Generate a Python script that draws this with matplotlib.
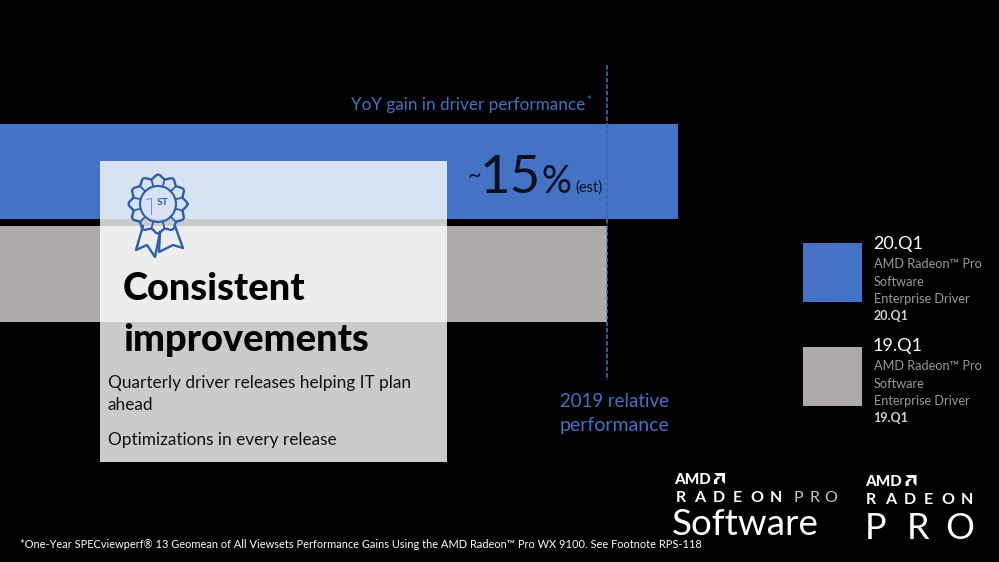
"""AMD Radeon Pro driver slide: YoY gain bars with call-out panel and logos."""

import matplotlib
matplotlib.use("Agg")
import matplotlib.pyplot as plt
import numpy as np
from matplotlib.patches import Circle, Polygon, Rectangle

# ---- Data (bar ends, on the 999 px wide slide) ----
RELEASES = ["20.Q1", "19.Q1"]
BAR_ENDS = [678, 607]
BAR_COLORS = ["#4472c4", "#aeaaaa"]
BAR_CENTERS = [171.5, 274]
BAR_HEIGHTS = [95, 96]
GAIN_TITLE = "YoY gain in driver performance"
BASELINE_LABEL = ["2019 relative", "performance"]
DRIVER_NAME = ["AMD Radeon™ Pro", "Software", "Enterprise Driver"]
BULLETS = ["Quarterly driver releases helping IT plan", "ahead", "Optimizations in every release"]
FOOTNOTE = ("*One-Year SPECviewperf® 13 Geomean of All Viewsets Performance Gains "
            "Using the AMD Radeon™ Pro WX 9100. See Footnote RPS-118")

BLUE = "#4472c4"
DARK = "#0a1020"
FONT = "Lato"
THIN = dict(family=["Roboto", "DejaVu Sans"], fontweight="light")
plt.rcParams["font.family"] = [FONT, "DejaVu Sans"]

fig = plt.figure(figsize=(9.99, 5.62), dpi=100, facecolor="black")
ax = fig.add_axes([0, 0, 1, 1])
ax.set_xlim(0, 999)
ax.set_ylim(562, 0)
ax.axis("off")


def spaced(x, y, letters, step, **kw):
    # letter-spaced logo text, each letter centred in its cell
    for i, ch in enumerate(letters):
        ax.text(x + i * step, y, ch, ha="center", va="baseline", **kw)


def amd_arrow(x, y, s, color="white"):
    ax.add_patch(Polygon([(x, y), (x + s, y), (x + s, y + s), (x + 0.72 * s, y + 0.72 * s),
                          (x + 0.72 * s, y + 0.28 * s), (x + 0.28 * s, y + 0.28 * s)],
                         color=color, lw=0, zorder=6))
    ax.add_patch(Polygon([(x, y + s * 0.62), (x + 0.3 * s, y + 0.36 * s), (x + 0.6 * s, y + 0.36 * s),
                          (x + 0.3 * s, y + 0.66 * s), (x + 0.3 * s, y + s), (x, y + s)],
                         color=color, lw=0, zorder=6))


# ---- Bars ----
ax.barh(BAR_CENTERS, BAR_ENDS, height=BAR_HEIGHTS, color=BAR_COLORS, zorder=1)
ax.plot([607, 607], [65, 124], color=BLUE, lw=1.1, ls=(0, (3, 1.2)), zorder=2)
ax.plot([607, 607], [124, 219], color="#3a64ad", lw=1.1, ls=(0, (3, 1.2)), zorder=2)
ax.plot([607, 607], [219, 380], color=BLUE, lw=1.1, ls=(0, (3, 1.2)), zorder=2)

# ---- Call-out panel ----
ax.add_patch(Rectangle((100, 160.5), 347, 301.5, color="white", alpha=0.8, lw=0, zorder=3))

# ---- Bar annotations ----
ax.text(585, 110, GAIN_TITLE, color=BLUE, fontsize=12.3, ha="right", va="baseline", zorder=5)
ax.text(586, 104, "*", color=BLUE, fontsize=8, ha="left", va="baseline", zorder=5)
ax.text(468, 183, "~", color=DARK, fontsize=17, ha="left", va="baseline", zorder=5)
ax.text(480, 193, "15", color=DARK, fontsize=38, ha="left", va="baseline", zorder=5)
ax.text(541, 193, "%", color=DARK, fontsize=27, ha="left", va="baseline", zorder=5)
ax.text(575, 192, "(est)", color=DARK, fontsize=10.5, ha="left", va="baseline", zorder=5)
ax.text(560, 407, BASELINE_LABEL[0], color=BLUE, fontsize=13.4, ha="left", va="baseline", zorder=5)
ax.text(560, 431, BASELINE_LABEL[1], color=BLUE, fontsize=14, ha="left", va="baseline", zorder=5)

# ---- Ribbon icon ----
RIB = "#2a5fb0"
cx, cy = 158, 204
angles = np.linspace(0, 2 * np.pi, 217)
r_outer = 27.5 + 1.9 * np.cos(12 * angles)
ax.plot(cx + r_outer * np.cos(angles), cy + r_outer * np.sin(angles), color=RIB, lw=1.7, zorder=6)
ax.add_patch(Circle((cx, cy), 18, fill=False, ec=RIB, lw=1.5, zorder=6))
for a in np.arange(np.pi / 12, 2 * np.pi, np.pi / 6):
    ax.plot([cx + 18 * np.cos(a), cx + 25.5 * np.cos(a)], [cy + 18 * np.sin(a), cy + 25.5 * np.sin(a)],
            color=RIB, lw=1.3, zorder=6)
ax.plot([143, 136, 147, 155, 160], [226, 250, 245, 257, 232], color=RIB, lw=1.7, zorder=6)
ax.plot([160, 159, 173, 183, 175], [232, 252, 245, 248, 226], color=RIB, lw=1.7, zorder=6)
ax.text(150.5, 215, "1", color=RIB, fontsize=17, ha="center", va="baseline", **THIN, zorder=7)
ax.text(163, 205, "ST", color=RIB, fontsize=7.5, fontweight="bold", ha="center", va="baseline", zorder=7)

# ---- Panel text ----
ax.text(123, 300, "Consistent", color="black", fontsize=27.4, fontweight="black", zorder=7)
ax.text(123, 351, "improvements", color="black", fontsize=27.4, fontweight="black", zorder=7)
ax.text(108, 388, BULLETS[0], color="#111111", fontsize=12.4, zorder=7)
ax.text(108, 410, BULLETS[1], color="#111111", fontsize=12.4, zorder=7)
ax.text(108, 445, BULLETS[2], color="#111111", fontsize=12.4, zorder=7)

# ---- Legend ----
for swatch_y, title_y, name, color in zip([243, 347], [249, 351], RELEASES, BAR_COLORS):
    ax.add_patch(Rectangle((803, swatch_y), 59, 59, color=color, lw=0, zorder=4))
    ax.text(873, title_y, name, color="white", fontsize=13, va="baseline", zorder=5)
    for k, line in enumerate(DRIVER_NAME):
        ax.text(873.5, title_y + 19 + k * 17.5, line, color="#9a9a9a", fontsize=9.2, va="baseline", zorder=5)
    ax.text(873.5, title_y + 71, name, color="#d0d0d0", fontsize=9, fontweight="bold", va="baseline", zorder=5)

# ---- Logos ----
ax.text(674, 483.5, "AMD", color="white", fontsize=11, fontweight="black", zorder=6)
amd_arrow(714, 473, 11)
spaced(680.5, 502, "RADEON", 19, color="white", fontsize=11.5, fontweight="bold", zorder=6)
spaced(798, 502, "PRO", 16.5, color="#c8c8c8", fontsize=11.5, zorder=6)
ax.text(672, 535, "Software", color="white", fontsize=26.5, zorder=6)
ax.text(865, 485.5, "AMD", color="white", fontsize=11, fontweight="black", zorder=6)
amd_arrow(905.5, 475, 11)
spaced(871, 504, "RADEON", 19.2, color="white", fontsize=11.5, fontweight="bold", zorder=6)
spaced(876, 539, "PRO", 42, color="white", fontsize=26, zorder=6)

# ---- Footnote ----
ax.text(20, 548, FOOTNOTE, color="white", fontsize=7.9, va="baseline", zorder=5)

fig.savefig("out.png", dpi=100, facecolor="black")
